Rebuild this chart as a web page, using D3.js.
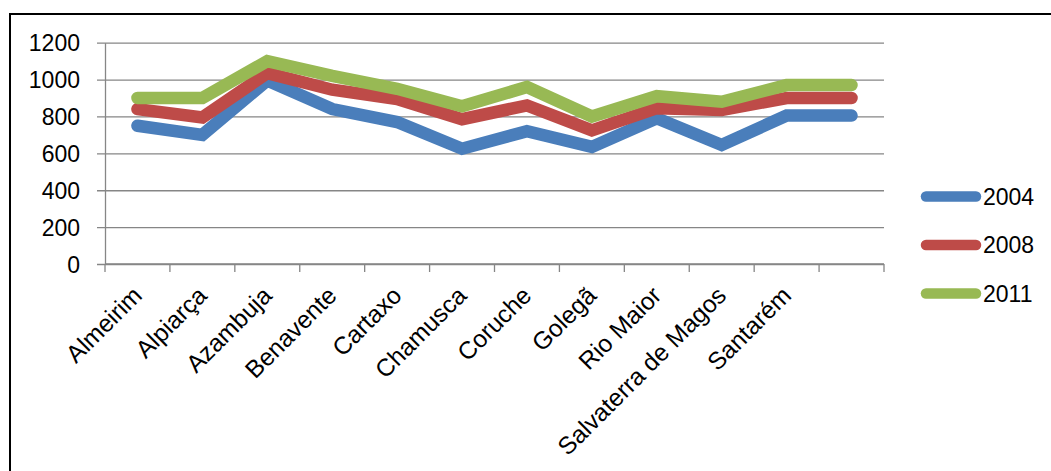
<!DOCTYPE html>
<html>
<head>
<meta charset="utf-8">
<script src="https://cdn.jsdelivr.net/npm/d3@7"></script>
<style>
  html, body { margin: 0; padding: 0; background: #ffffff; }
  svg { display: block; }
</style>
</head>
<body>
<div id="chart"></div>
<script>
// Municipalities of the Santarém district (last slot has no label)
const categories = ["Almeirim", "Alpiarça", "Azambuja", "Benavente", "Cartaxo", "Chamusca",
  "Coruche", "Golegã", "Rio Maior", "Salvaterra de Magos", "Santarém", ""];

const values2004 = [750, 700, 995, 840, 770, 625, 720, 635, 790, 645, 805, 805];
const values2008 = [840, 795, 1035, 945, 895, 785, 860, 725, 845, 835, 900, 900];
const values2011 = [900, 900, 1100, 1020, 950, 855, 960, 800, 910, 880, 970, 970];

const seriesNames = ["2004", "2008", "2011"];
const seriesColors = ["#4A7EBB", "#BE4B48", "#98B954"];
const yTicks = [0, 200, 400, 600, 800, 1000, 1200];

const W = 1051, H = 471;
const plot = { left: 105, right: 884, top: 42.7, bottom: 264 };
const font = "'Liberation Sans', Arial, sans-serif";

const svg = d3.select("#chart").append("svg")
  .attr("width", W).attr("height", H);

// chart frame (left and top edges visible)
svg.append("path")
  .attr("d", `M10,${H + 2} V14 H${W + 2}`)
  .attr("fill", "none").attr("stroke", "#000").attr("stroke-width", 2);

const x = d3.scaleBand().domain(d3.range(categories.length))
  .range([plot.left, plot.right]).paddingInner(0).paddingOuter(0);
const y = d3.scaleLinear().domain([0, 1200]).range([plot.bottom, plot.top]);

const gridColor = "#868686";

// horizontal gridlines with left tick marks
const yAxis = d3.axisLeft(y).tickValues(yTicks).tickFormat(d3.format("d"))
  .tickSize(-(plot.right - plot.left)).tickSizeOuter(0);
const gy = svg.append("g").attr("transform", `translate(${plot.left},0)`).call(yAxis);
gy.select(".domain").attr("stroke", gridColor).attr("stroke-width", 1.3);
gy.selectAll(".tick line").attr("stroke", gridColor).attr("stroke-width", 1.3)
  .attr("x1", -8);
gy.selectAll(".tick text")
  .attr("font-family", font)
  .attr("font-size", 23).attr("fill", "#000").attr("x", -25).attr("dy", "0.36em");

// category axis with tick marks at band boundaries
const xAxisG = svg.append("g");
xAxisG.append("line")
  .attr("x1", plot.left).attr("x2", plot.right)
  .attr("y1", plot.bottom).attr("y2", plot.bottom)
  .attr("stroke", gridColor).attr("stroke-width", 1.3);
const boundaries = d3.range(categories.length + 1);
xAxisG.selectAll("line.tk").data(boundaries).join("line").attr("class", "tk")
  .attr("x1", i => i < categories.length ? x(i) : x(i - 1) + x.bandwidth())
  .attr("x2", i => i < categories.length ? x(i) : x(i - 1) + x.bandwidth())
  .attr("y1", plot.bottom).attr("y2", plot.bottom + 8)
  .attr("stroke", gridColor).attr("stroke-width", 1.3);

xAxisG.selectAll("text.cat").data(categories).join("text").attr("class", "cat")
  .attr("transform", (d, i) => `translate(${x(i) + x.bandwidth() / 2 + 6},297) rotate(-45)`)
  .attr("text-anchor", "end")
  .attr("font-family", font)
  .attr("font-size", 24.5).attr("fill", "#000")
  .text(d => d);

// series lines
const seriesData = [values2004, values2008, values2011];
const line = d3.line()
  .x((d, i) => x(i) + x.bandwidth() / 2)
  .y(d => y(d));

svg.append("g").selectAll("path").data(seriesData).join("path")
  .attr("d", line)
  .attr("fill", "none")
  .attr("stroke", (d, i) => seriesColors[i])
  .attr("stroke-width", 12.5)
  .attr("stroke-linecap", "round")
  .attr("stroke-linejoin", "miter");

// legend
const legendY = d3.scalePoint().domain(seriesNames).range([196.5, 293.5]);
const lg = svg.append("g").selectAll("g").data(seriesNames).join("g")
  .attr("transform", d => `translate(0,${legendY(d)})`);
lg.append("line")
  .attr("x1", 926).attr("x2", 976).attr("y1", 0).attr("y2", 0)
  .attr("stroke", (d, i) => seriesColors[i])
  .attr("stroke-width", 10.5).attr("stroke-linecap", "round");
lg.append("text")
  .attr("x", 983).attr("y", 0).attr("dy", "0.36em")
  .attr("font-family", font)
  .attr("font-size", 23).attr("fill", "#000")
  .text(d => d);
</script>
</body>
</html>
